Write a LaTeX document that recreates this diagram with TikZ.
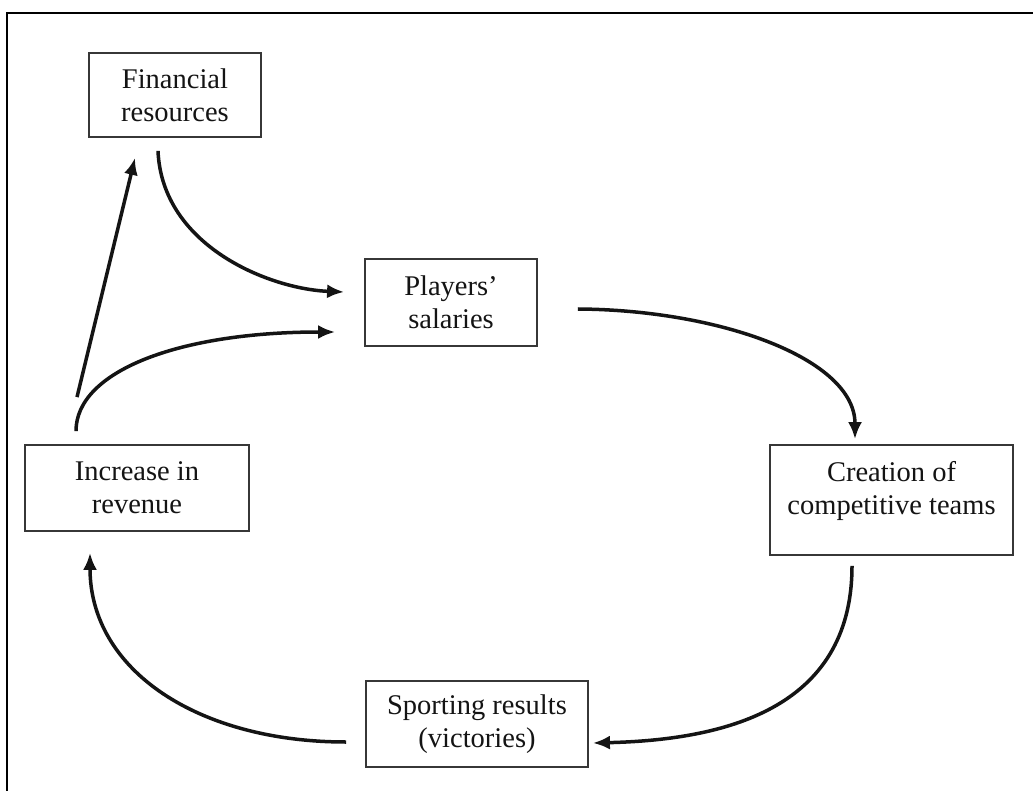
\documentclass[tikz,border=0pt]{standalone}
\usepackage{fontspec}
\setmainfont{Liberation Serif}
\usetikzlibrary{arrows.meta}
\definecolor{boxline}{RGB}{55,55,55}
\definecolor{ink}{RGB}{20,20,20}
\tikzset{
  box/.style={draw=boxline, line width=1.8pt, align=center, inner sep=4pt,
    font=\fontsize{28.5}{33}\selectfont, text=ink},
  arr/.style={draw=ink, line width=3.5pt, -{Latex[length=17pt,width=14pt]}},
  frame/.style={draw=black, line width=2.8pt}
}
\begin{document}
\begin{tikzpicture}[x=1pt,y=1pt]
\useasboundingbox (0,0) rectangle (1033,-791);
\fill[white] (0,0) rectangle (1033,-791);
\draw[frame] (7,-791) -- (7,-13) -- (1040,-13);

\node[box, minimum width=172pt, minimum height=84pt] (fin) at (175,-95) {Financial\\resources};
\node[box, minimum width=172pt, minimum height=87pt] (pl) at (451,-302.5) {Players'\\salaries};
\node[box, minimum width=243pt, minimum height=110pt] (cr) at (891.5,-500) {Creation of\\competitive teams\\[-9pt]\mbox{}};
\node[box, minimum width=222pt, minimum height=86pt] (sp) at (477,-724) {Sporting results\\(victories)};
\node[box, minimum width=224pt, minimum height=86pt] (inc) at (137,-488) {Increase in\\revenue};

\draw[arr] ([xshift=-17pt,yshift=-13pt]fin.south) .. controls +(4,-95) and +(-75,3) .. ([xshift=-20pt,yshift=10.5pt]pl.west);
\draw[arr] ([xshift=-60pt,yshift=47pt]inc.north) -- ([xshift=-40pt,yshift=-20pt]fin.south);
\draw[arr] ([xshift=-61pt,yshift=13pt]inc.north) .. controls +(0,60) and +(-156,0) .. ([xshift=-29pt,yshift=-29.5pt]pl.west);
\draw[arr] ([xshift=40pt,yshift=-6.5pt]pl.east) .. controls +(143,-1) and +(0,80) .. ([xshift=-36.5pt,yshift=5pt]cr.north);
\draw[arr] ([xshift=-39.5pt,yshift=-10pt]cr.south) .. controls +(0,-145) and +(128,3) .. ([xshift=4pt,yshift=-19pt]sp.east);
\draw[arr] ([xshift=-19pt,yshift=-18pt]sp.west) .. controls +(-147,0) and +(0,-118) .. ([xshift=-47pt,yshift=-21pt]inc.south);
\end{tikzpicture}
\end{document}
